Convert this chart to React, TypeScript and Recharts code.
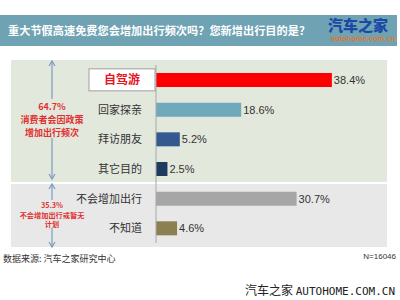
import React from "react";
import { BarChart, Bar, XAxis, YAxis, Cell, LabelList } from "recharts";

const categories = ["自驾游", "回家探亲", "拜访朋友", "其它目的", "不会增加出行", "不知道"];
const values = [38.4, 18.6, 5.2, 2.5, 30.7, 4.6];
const colors = ["#ff0000", "#6fa9bb", "#34598e", "#1f3a5e", "#a6a6a6", "#8c7f52"];
const title = "重大节假高速免费您会增加出行频次吗？您新增出行目的是？";
const topNote = ["64.7%", "消费者会因政策", "增加出行频次"];
const bottomNote = ["35.3%", "不会增加出行或暂无", "计划"];
const source = "数据来源: 汽车之家研究中心";
const sampleSize = "N=16046";

const data = categories.map((c, i) => ({ name: c, value: values[i] }));

const CJK = '"Noto Sans CJK SC", "Noto Sans", sans-serif';

const Tick = (props: any) => {
  const { x, y, payload } = props;
  if (payload.value === categories[0]) {
    return (
      <g>
        <rect x={89} y={y - 11} width={66} height={22} fill="#ffffff" stroke="#a0a0a0" strokeWidth={1} />
        <text x={122} y={y} dy={4} textAnchor="middle" fill="#e8141e" fontSize={12} fontWeight="bold" fontFamily={CJK}>
          {payload.value}
        </text>
      </g>
    );
  }
  return (
    <text x={x - 6} y={y} dy={4} textAnchor="end" fill="#333" fontSize={11} fontFamily={CJK}>
      {payload.value}
    </text>
  );
};

export default function App() {
  return (
    <div style={{ position: "absolute", left: 0, top: 0, width: 400, height: 300, background: "#fff", overflow: "hidden", fontFamily: CJK }}>
      {/* title bar */}
      <div style={{ position: "absolute", left: 0, top: 15, width: 397, height: 31, background: "#6fa3b3" }} />
      <div style={{ position: "absolute", left: 8, top: 23, color: "#fff", fontSize: 11.2, lineHeight: "14px", fontWeight: "bold", whiteSpace: "nowrap" }}>{title}</div>
      <div style={{ position: "absolute", left: 328, top: 15, color: "#1b4aa6", fontSize: 15, lineHeight: "19px", fontWeight: 900, whiteSpace: "nowrap" }}>汽车之家</div>
      <div style={{ position: "absolute", left: 331, top: 34, color: "#e8741e", fontSize: 7.5, lineHeight: "9px", fontWeight: "bold", whiteSpace: "nowrap", fontFamily: "Liberation Sans, sans-serif" }}>autohome.com.cn</div>
      {/* panels */}
      <div style={{ position: "absolute", left: 11, top: 60, width: 376, height: 122, background: "#e3e8dd" }} />
      <div style={{ position: "absolute", left: 11, top: 184, width: 376, height: 63, background: "#e8e8e8" }} />
      {/* annotations */}
      <svg style={{ position: "absolute", left: 0, top: 0 }} width={400} height={300}>
        <g stroke="#7a9cc0" strokeWidth={1.2} fill="none">
          <line x1={52} y1={62} x2={52} y2={99} />
          <line x1={52} y1={138} x2={52} y2={178} />
          <polyline points="49,66 52,61 55,66" />
          <polyline points="49,174 52,179 55,174" />
          <line x1={52} y1={185} x2={52} y2={200} />
          <line x1={52} y1={228} x2={52} y2={246} />
          <polyline points="49,189 52,184 55,189" />
          <polyline points="49,242 52,247 55,242" />
        </g>
        <g fill="#e03030" fontWeight="bold" textAnchor="middle" fontFamily={CJK}>
          <text x={52} y={109.5} fontSize={9}>{topNote[0]}</text>
          <text x={52} y={122.5} fontSize={9}>{topNote[1]}</text>
          <text x={52} y={135.5} fontSize={9}>{topNote[2]}</text>
          <text x={52} y={208} fontSize={7.2}>{bottomNote[0]}</text>
          <text x={52} y={217.5} fontSize={7.2}>{bottomNote[1]}</text>
          <text x={52} y={227} fontSize={7.2}>{bottomNote[2]}</text>
        </g>
      </svg>
      <div style={{ position: "absolute", left: 0, top: 0 }}>
        <BarChart
          width={400}
          height={300}
          data={data}
          layout="vertical"
          margin={{ top: 65, right: 15, bottom: 57, left: 0 }}
          barSize={14}
        >
          <XAxis type="number" domain={[0, 50]} hide />
          <YAxis
            type="category"
            dataKey="name"
            width={156}
            axisLine={{ stroke: "#a8a8a8" }}
            tickLine={false}
            tick={<Tick />}
            interval={0}
          />
          <Bar dataKey="value" isAnimationActive={false}>
            {data.map((d, i) => (
              <Cell key={d.name} fill={colors[i]} />
            ))}
            <LabelList
              dataKey="value"
              position="right"
              offset={2}
              formatter={(v: any) => `${v}%`}
              style={{ fill: "#333", fontSize: 11, fontFamily: "Liberation Sans, sans-serif" }}
            />
          </Bar>
        </BarChart>
      </div>
      {/* footer */}
      <div style={{ position: "absolute", left: 3, top: 252, fontSize: 9, color: "#333", whiteSpace: "nowrap" }}>{source}</div>
      <div style={{ position: "absolute", right: 4, top: 252, fontSize: 8, color: "#333", whiteSpace: "nowrap", fontFamily: "Liberation Sans, sans-serif" }}>{sampleSize}</div>
      <div style={{ position: "absolute", left: 245, top: 281, fontSize: 12, color: "#222", whiteSpace: "nowrap" }}>
        汽车之家 <span style={{ fontFamily: "DejaVu Sans Mono, monospace", fontSize: 11 }}>AUTOHOME.COM.CN</span>
      </div>
    </div>
  );
}
